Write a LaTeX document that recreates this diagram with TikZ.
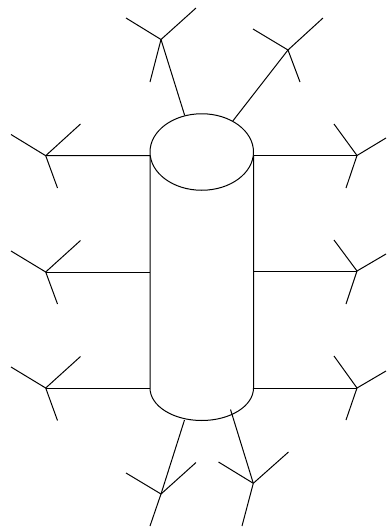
\documentclass[tikz,border=0pt]{standalone}
\usetikzlibrary{positioning,shapes.geometric}
\tikzset{
  wire/.style={draw=black,line width=1pt},
  lid/.style={ellipse,draw=black,line width=1pt,inner sep=0pt,minimum width=103.5pt,minimum height=76.5pt}
}
\begin{document}
\begin{tikzpicture}[x=1pt,y=-1pt]

  \useasboundingbox (0,0) rectangle (386,528);

  % cylinder
  \node[lid] at (201.75,152) (top) {};
  \coordinate (bodyL1) at (150,155.5);
  \coordinate (bodyL2) at (150,272);
  \coordinate (bodyL3) at (150,388);
  \coordinate (bodyR1) at (253.5,155.5);
  \coordinate (bodyR2) at (253.5,271);
  \coordinate (bodyR3) at (253.5,388);
  \coordinate (baseA) at (184.5,420);
  \coordinate (baseB) at (230.5,409.5);
  \draw[wire] (bodyL1) -- (bodyL3) arc[start angle=180,end angle=0,x radius=51.75,y radius=32.5] -- (bodyR1);

  % antennas: name / hub / three arm ends
  \foreach \name/\hx/\hy/\ax/\ay/\bx/\by/\cx/\cy in {
    antL1/45.7/155.7/11/134.5/80.5/124/57.5/188,
    antL2/45.7/272/11/251/80.5/240.5/57.5/304,
    antL3/45.7/388/11/367/80.5/356.5/57.5/420.5,
    antR1/357/155.5/334/124/386/138/346/188,
    antR2/357/271/334/240/386/254/346/304,
    antR3/357/388/334/356/386/371/346/420,
    antA/161/39.5/126/18/196/8/150/82,
    antB/288/50/253/29/323/18/300/82,
    antC/161/494/126/473/196/462.5/150/526,
    antD/253.3/483.3/218.5/462/288.5/452/242/526
  }{
    \coordinate (\name) at (\hx,\hy);
    \coordinate (\name a) at (\ax,\ay);
    \coordinate (\name b) at (\bx,\by);
    \coordinate (\name c) at (\cx,\cy);
    \draw[wire] (\name) -- (\name a);
    \draw[wire] (\name) -- (\name b);
    \draw[wire] (\name) -- (\name c);
  }

  \draw[wire] (antL1) -- (bodyL1);
  \draw[wire] (antL2) -- (bodyL2);
  \draw[wire] (antL3) -- (bodyL3);
  \draw[wire] (antR1) -- (bodyR1);
  \draw[wire] (antR2) -- (bodyR2);
  \draw[wire] (antR3) -- (bodyR3);
  \draw[wire] (antA) -- (top.115);
  \draw[wire] (antB) -- (top.45);
  \draw[wire] (antC) -- (baseA);
  \draw[wire] (antD) -- (baseB);

\end{tikzpicture}
\end{document}
